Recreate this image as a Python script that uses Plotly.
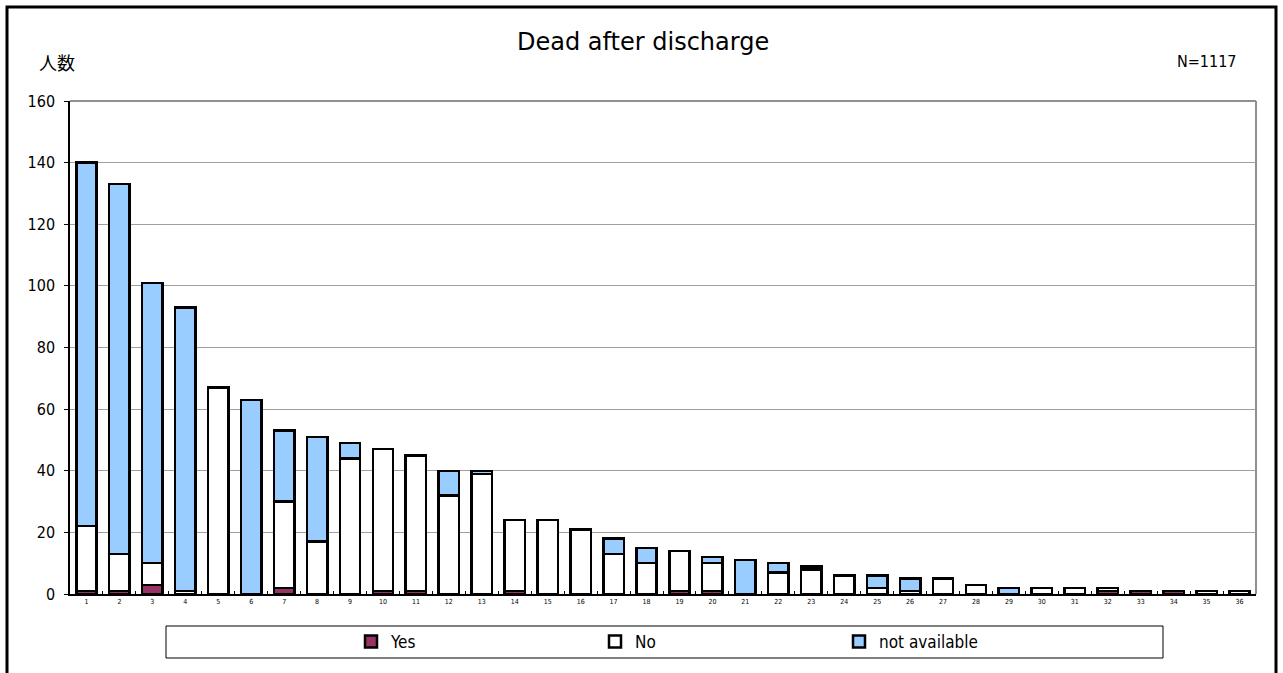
import plotly.graph_objects as go

categories = [str(i) for i in range(1, 37)]
yes_vals = [1, 1, 3, 0, 0, 0, 2, 0, 0, 1, 1, 0, 0, 1, 0, 0, 0, 0, 1, 1, 0, 0, 0, 0, 0, 0, 0, 0, 0, 0, 0, 1, 1, 1, 0, 0]
no_vals = [21, 12, 7, 1, 67, 0, 28, 17, 44, 46, 44, 32, 39, 23, 24, 21, 13, 10, 13, 9, 0, 7, 8, 6, 2, 1, 5, 3, 0, 2, 2, 1, 0, 0, 1, 1]
na_vals = [118, 120, 91, 92, 0, 63, 23, 34, 5, 0, 0, 8, 1, 0, 0, 0, 5, 5, 0, 2, 11, 3, 1, 0, 4, 4, 0, 0, 2, 0, 0, 0, 0, 0, 0, 0]
series_names = ["Yes", "No", "not available"]
series_colors = ["#993366", "#FFFFFF", "#99CCFF"]

title_text = "Dead after discharge"
ylabel_text = "人数"
n_text = "N=1117"

W, H = 1283, 673
L, R, T, B = 70, 27, 101, 79
pw, ph = W - L - R, H - T - B


def px(x):
    return (x - L) / pw


def py(y):
    return (H - B - y) / ph


CJK = "Noto Sans CJK JP"
COND = "DejaVu Sans Condensed, DejaVu Sans"

fig = go.Figure()
for name, vals, col in zip(series_names, [yes_vals, no_vals, na_vals], series_colors):
    fig.add_trace(go.Bar(
        x=categories, y=vals, name=name,
        marker=dict(color=col, line=dict(color="black", width=2.5)),
    ))

fig.update_layout(
    width=W, height=H,
    margin=dict(l=L, r=R, t=T, b=B, autoexpand=False),
    barmode="stack", bargap=0.38,
    plot_bgcolor="white", paper_bgcolor="white",
    font=dict(family=COND, color="black"),
    showlegend=True,
    legend=dict(
        orientation="h", traceorder="normal",
        x=px(351), xanchor="left", y=py(642), yanchor="middle",
        entrywidth=199, entrywidthmode="pixels",
        font=dict(size=17, family=COND, color="black"), bgcolor="rgba(0,0,0,0)",
        itemclick=False, itemdoubleclick=False,
    ),
    xaxis=dict(
        type="category", showgrid=False, showline=True, linecolor="black", linewidth=2,
        ticks="inside", tickson="boundaries", ticklen=3, tickcolor="black",
        tickfont=dict(size=7, family=COND, color="black"), fixedrange=True,
    ),
    yaxis=dict(
        range=[0, 160], dtick=20, showgrid=True, gridcolor="#A0A0A0", gridwidth=1,
        showline=True, linecolor="black", linewidth=1.5,
        ticks="outside", ticklen=4, tickcolor="black",
        tickfont=dict(size=16, family=COND, color="black"), ticklabelstandoff=6,
        zeroline=False, fixedrange=True,
    ),
    shapes=[
        dict(type="line", xref="paper", yref="paper", x0=0, x1=1, y0=1, y1=1,
             line=dict(color="#909090", width=2)),
        dict(type="line", xref="paper", yref="paper", x0=1, x1=1, y0=0, y1=1,
             line=dict(color="#909090", width=2)),
        dict(type="rect", xref="paper", yref="paper", x0=px(166), x1=px(1163), y0=py(626), y1=py(658),
             line=dict(color="black", width=1)),
        dict(type="rect", xref="paper", yref="paper", x0=px(7), x1=px(1276), y0=py(7), y1=py(690),
             line=dict(color="black", width=3)),
    ],
    annotations=[
        dict(text=title_text, xref="paper", yref="paper", x=px(643), y=py(42), xanchor="center",
             yanchor="middle", showarrow=False, font=dict(size=24, family="DejaVu Sans", color="black")),
        dict(text=ylabel_text, xref="paper", yref="paper", x=px(37), y=py(62), xanchor="left",
             yanchor="middle", showarrow=False, font=dict(size=18, family=CJK, color="black")),
        dict(text=n_text, xref="paper", yref="paper", x=px(1238), y=py(62), xanchor="right",
             yanchor="middle", showarrow=False, font=dict(size=16, family=COND, color="black")),
    ],
)

fig.write_html("out.html", config={"displayModeBar": False},
               post_script="document.body.style.margin='0';")
